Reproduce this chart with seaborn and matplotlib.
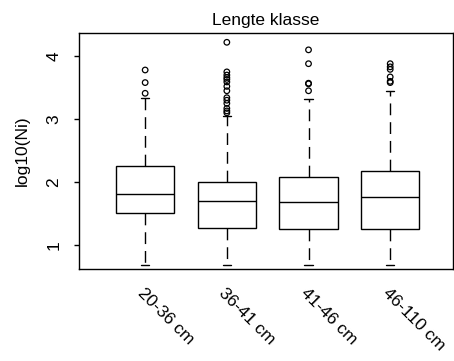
import numpy as np
import pandas as pd
import matplotlib
matplotlib.use("Agg")
import matplotlib.pyplot as plt
import seaborn as sns

# data (log10 Ni per length class)
groups = ["20-36 cm", "36-41 cm", "41-46 cm", "46-110 cm"]
whis_lo = [0.69, 0.69, 0.69, 0.69]
q1 = [1.51, 1.27, 1.25, 1.25]
median = [1.81, 1.70, 1.69, 1.76]
q3 = [2.25, 2.00, 2.08, 2.17]
whis_hi = [3.33, 3.05, 3.32, 3.44]
outliers = [
    [3.41, 3.58, 3.78],
    [4.22, 3.75, 3.70, 3.66, 3.63, 3.59, 3.52, 3.45, 3.34, 3.30, 3.25, 3.17, 3.13, 3.10],
    [3.45, 3.56, 3.57, 3.88, 4.10],
    [3.88, 3.83, 3.79, 3.67, 3.60, 3.58],
]

sns.set_style("white", {"text.color": "black", "axes.labelcolor": "black",
                        "xtick.color": "black", "ytick.color": "black",
                        "axes.edgecolor": "black"})
plt.rcParams['font.family'] = ['Liberation Sans', 'DejaVu Sans']
fs = 12.5

# five-number table -> boxes (whiskers go to min/max of these)
rows = []
for g, a, b, c, d, e in zip(groups, whis_lo, q1, median, q3, whis_hi):
    for v in (a, b, c, d, e):
        rows.append({"klasse": g, "val": v})
box_df = pd.DataFrame(rows)

out_rows = []
for i, vals in enumerate(outliers):
    for v in vals:
        out_rows.append({"pos": i, "val": v})
out_df = pd.DataFrame(out_rows)

fig = plt.figure(figsize=(4.54, 3.61), dpi=100)
ax = fig.add_axes([0.174, 0.255, 0.824, 0.654])

sns.boxplot(data=box_df, x="klasse", y="val", order=groups, ax=ax,
            whis=(0, 100), width=0.715, color="white", linecolor="black",
            linewidth=1, capwidths=0.1,
            whiskerprops=dict(linestyle=(0, (8.5, 5))),
            showfliers=False)

sns.scatterplot(data=out_df, x="pos", y="val", ax=ax, marker="o", s=16,
                facecolors="none", edgecolors="black", linewidth=0.9,
                legend=False)

ax.set_xlim(-0.81, 3.77)
ax.set_ylim(0.62, 4.37)
ax.set_yticks([1, 2, 3, 4])
ax.set_yticklabels(["1", "2", "3", "4"], rotation=90, va="center", fontsize=fs)
ax.set_xticks(range(len(groups)))
ax.set_xticklabels(groups, rotation=-45, ha="left", va="top",
                   rotation_mode="anchor", fontsize=fs)
ax.tick_params(axis="x", length=0, pad=12, colors="black")
ax.tick_params(axis="y", length=3.6, width=1, direction="out", pad=9, left=True,
               colors="black")

for s in ax.spines.values():
    s.set_visible(True)
    s.set_color("black")
    s.set_linewidth(1)

ax.set_xlabel("")
ax.set_ylabel("log10(Ni)", fontsize=fs, labelpad=12, color="black")
ax.set_title("Lengte klasse", fontsize=fs, pad=6, color="black")

plt.savefig("out.png", dpi=100)
plt.close()
